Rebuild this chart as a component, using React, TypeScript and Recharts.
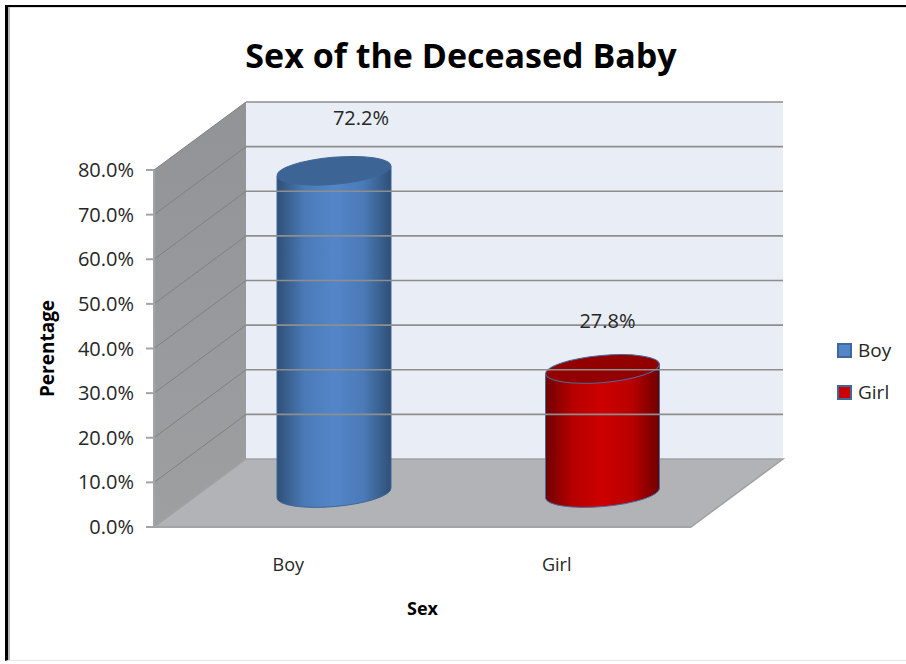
import {BarChart, Bar, XAxis, YAxis, ReferenceArea, ReferenceLine, LabelList, Legend} from 'recharts'

const CATEGORIES: string[] = ['Boy', 'Girl']
const PERCENTAGES: number[] = [72.2, 27.8]
const Y_TICKS: number[] = [0, 10, 20, 30, 40, 50, 60, 70, 80]

// body / lid / swatch colours per category
const BODY_COLORS = [
    {edge: '#2f5077', shade: '#4a7ab7', mid: '#5386c9', lid: '#3c6495', line: '#3f6797'},
    {edge: '#6e0000', shade: '#b80000', mid: '#cc0000', lid: '#930000', line: '#4a6a9c'},
]

// how far the back wall sits behind the front plane
const DEPTH_X = 92
const DEPTH_Y = 68
// label nudges from the top of each cylinder
const LABEL_NUDGE = [{dx: 27, dy: -51}, {dx: 5, dy: -46}]

const FONT = '"Open Sans", "Noto Sans", sans-serif'

const chartData = CATEGORIES.map((name, i) => ({name, value: PERCENTAGES[i]}))

const Room = (props: any) => {
    const {x, y, width, height} = props
    const bottom = y + height
    const right = x + width
    return (
        <g>
            <defs>
                <linearGradient id="sideWall" x1="0" y1="0" x2="0" y2="1">
                    <stop offset="0%" stopColor="#919396" />
                    <stop offset="100%" stopColor="#9d9fa1" />
                </linearGradient>
            </defs>
            <polygon
                points={`${x + DEPTH_X},${y - DEPTH_Y} ${right + DEPTH_X},${y - DEPTH_Y} ${right + DEPTH_X},${bottom - DEPTH_Y} ${x + DEPTH_X},${bottom - DEPTH_Y}`}
                fill="#e9edf6"
            />
            <polygon
                points={`${x},${y} ${x + DEPTH_X},${y - DEPTH_Y} ${x + DEPTH_X},${bottom - DEPTH_Y} ${x},${bottom}`}
                fill="url(#sideWall)"
            />
            <polygon
                points={`${x},${bottom} ${x + DEPTH_X},${bottom - DEPTH_Y} ${right + DEPTH_X},${bottom - DEPTH_Y} ${right},${bottom}`}
                fill="#b1b3b6"
                stroke="#a0a1a3"
                strokeWidth={1.5}
            />
        </g>
    )
}

// one grid line: a thin slant on the side wall plus the run along the back wall
const WallLine = (props: any) => {
    const {x1, x2, y1, y2} = props
    const backY = y1 - DEPTH_Y
    return (
        <g>
            <line x1={x1} y1={y1} x2={x1 + DEPTH_X} y2={backY} stroke="#808183" strokeWidth={1} />
            <line x1={x1 + DEPTH_X} y1={backY} x2={x2 + DEPTH_X} y2={y2 - DEPTH_Y} stroke="#8e8e8e" strokeWidth={1.6} />
        </g>
    )
}

const Cylinder = (props: any) => {
    const {x, y, width, height, index} = props
    const c = BODY_COLORS[index]
    const left = x + DEPTH_X / 2
    const right = left + width
    const top = y - DEPTH_Y / 2
    const base = top + height
    const rx = width / 2
    const ry = 13.5
    const tilt = 5
    const gradId = `cylinder${index}`
    return (
        <g>
            <defs>
                <linearGradient id={gradId} x1="0" y1="0" x2="1" y2="0">
                    <stop offset="0%" stopColor={c.edge} />
                    <stop offset="24%" stopColor={c.shade} />
                    <stop offset="50%" stopColor={c.mid} />
                    <stop offset="76%" stopColor={c.shade} />
                    <stop offset="100%" stopColor={c.edge} />
                </linearGradient>
            </defs>
            <path
                d={`M${left},${top + tilt} L${left},${base + tilt} A${rx},${ry} ${-tilt} 0 0 ${right},${base - tilt} L${right},${top - tilt} Z`}
                fill={`url(#${gradId})`}
                stroke={c.line}
                strokeWidth={1}
            />
            <ellipse
                cx={left + rx}
                cy={top}
                rx={rx}
                ry={ry}
                transform={`rotate(${-tilt} ${left + rx} ${top})`}
                fill={c.lid}
                stroke={c.line}
                strokeWidth={1}
            />
        </g>
    )
}

const ValueLabel = (props: any) => {
    const {x, y, width, value, index} = props
    const nudge = LABEL_NUDGE[index]
    return (
        <text
            x={x + width / 2 + DEPTH_X / 2 + nudge.dx}
            y={y - DEPTH_Y / 2 + nudge.dy}
            textAnchor="middle"
            dominantBaseline="middle"
            fontFamily={FONT}
            fontSize={20}
            fill="#262626"
        >
            {Number(value).toFixed(1)}%
        </text>
    )
}

const LegendBox = () => (
    <div style={{fontFamily: FONT, fontSize: 19, color: '#262626'}}>
        {CATEGORIES.map((name, i) => (
            <div key={name} style={{display: 'flex', alignItems: 'center', height: 42}}>
                <span
                    style={{
                        width: 11,
                        height: 11,
                        marginRight: 6,
                        background: BODY_COLORS[i].mid,
                        border: '2px solid #3f6797',
                    }}
                />
                {name}
            </div>
        ))}
    </div>
)

const App = () => {
    return (
        <div
            style={{
                position: 'absolute',
                left: 5,
                top: 5,
                width: 901,
                height: 656,
                boxSizing: 'border-box',
                background: '#fff',
                borderLeft: '3px solid #000',
                borderTop: '2px solid #000',
                borderBottom: '1px solid #e8e8e8',
                boxShadow: 'inset 2px 0 0 #b5b5b5, inset 0 1px 0 #dcdcdc',
            }}
        >
            <div
                style={{
                    position: 'absolute',
                    left: 0,
                    top: 26,
                    width: 906,
                    textAlign: 'center',
                    fontFamily: FONT,
                    fontWeight: 700,
                    fontSize: 34,
                    lineHeight: '44px',
                    color: '#000',
                }}
            >
                Sex of the Deceased Baby
            </div>
            <div style={{position: 'absolute', left: -8, top: -7}}>
                <BarChart
                    width={906}
                    height={664}
                    data={chartData}
                    margin={{top: 170, right: 147, bottom: 45, left: 34}}
                >
                    <ReferenceArea y1={0} y2={80} ifOverflow="visible" shape={<Room />} />
                    {Y_TICKS.slice(1).map(t => (
                        <ReferenceLine key={t} y={t} ifOverflow="visible" shape={<WallLine />} />
                    ))}
                    <XAxis
                        dataKey="name"
                        height={92}
                        tickLine={false}
                        tickMargin={25}
                        axisLine={{stroke: '#a3a4a6', strokeWidth: 2}}
                        tick={{fontFamily: FONT, fontSize: 18, fill: '#262626'}}
                        label={{value: 'Sex', position: 'insideBottom', offset: 4, fontFamily: FONT, fontWeight: 700, fontSize: 18, fill: '#000'}}
                    />
                    <YAxis
                        width={120}
                        domain={[0, 80]}
                        ticks={Y_TICKS}
                        tickFormatter={(v: number) => v.toFixed(1) + '%'}
                        interval={0}
                        tickSize={8}
                        tickMargin={12}
                        axisLine={{stroke: '#a3a4a6', strokeWidth: 2}}
                        tickLine={{stroke: '#a3a4a6', strokeWidth: 2}}
                        tick={{fontFamily: FONT, fontSize: 20, fill: '#262626'}}
                        label={{value: 'Perentage', angle: -90, position: 'insideLeft', offset: 13, textAnchor: 'middle', fontFamily: FONT, fontWeight: 700, fontSize: 19, fill: '#000'}}
                    />
                    <Legend
                        layout="vertical"
                        align="right"
                        verticalAlign="top"
                        content={<LegendBox />}
                        wrapperStyle={{left: 837, top: 329, width: 68}}
                    />
                    <Bar dataKey="value" barSize={114} isAnimationActive={false} shape={<Cylinder />}>
                        <LabelList dataKey="value" content={<ValueLabel />} />
                    </Bar>
                </BarChart>
            </div>
        </div>
    )
}

export default App
